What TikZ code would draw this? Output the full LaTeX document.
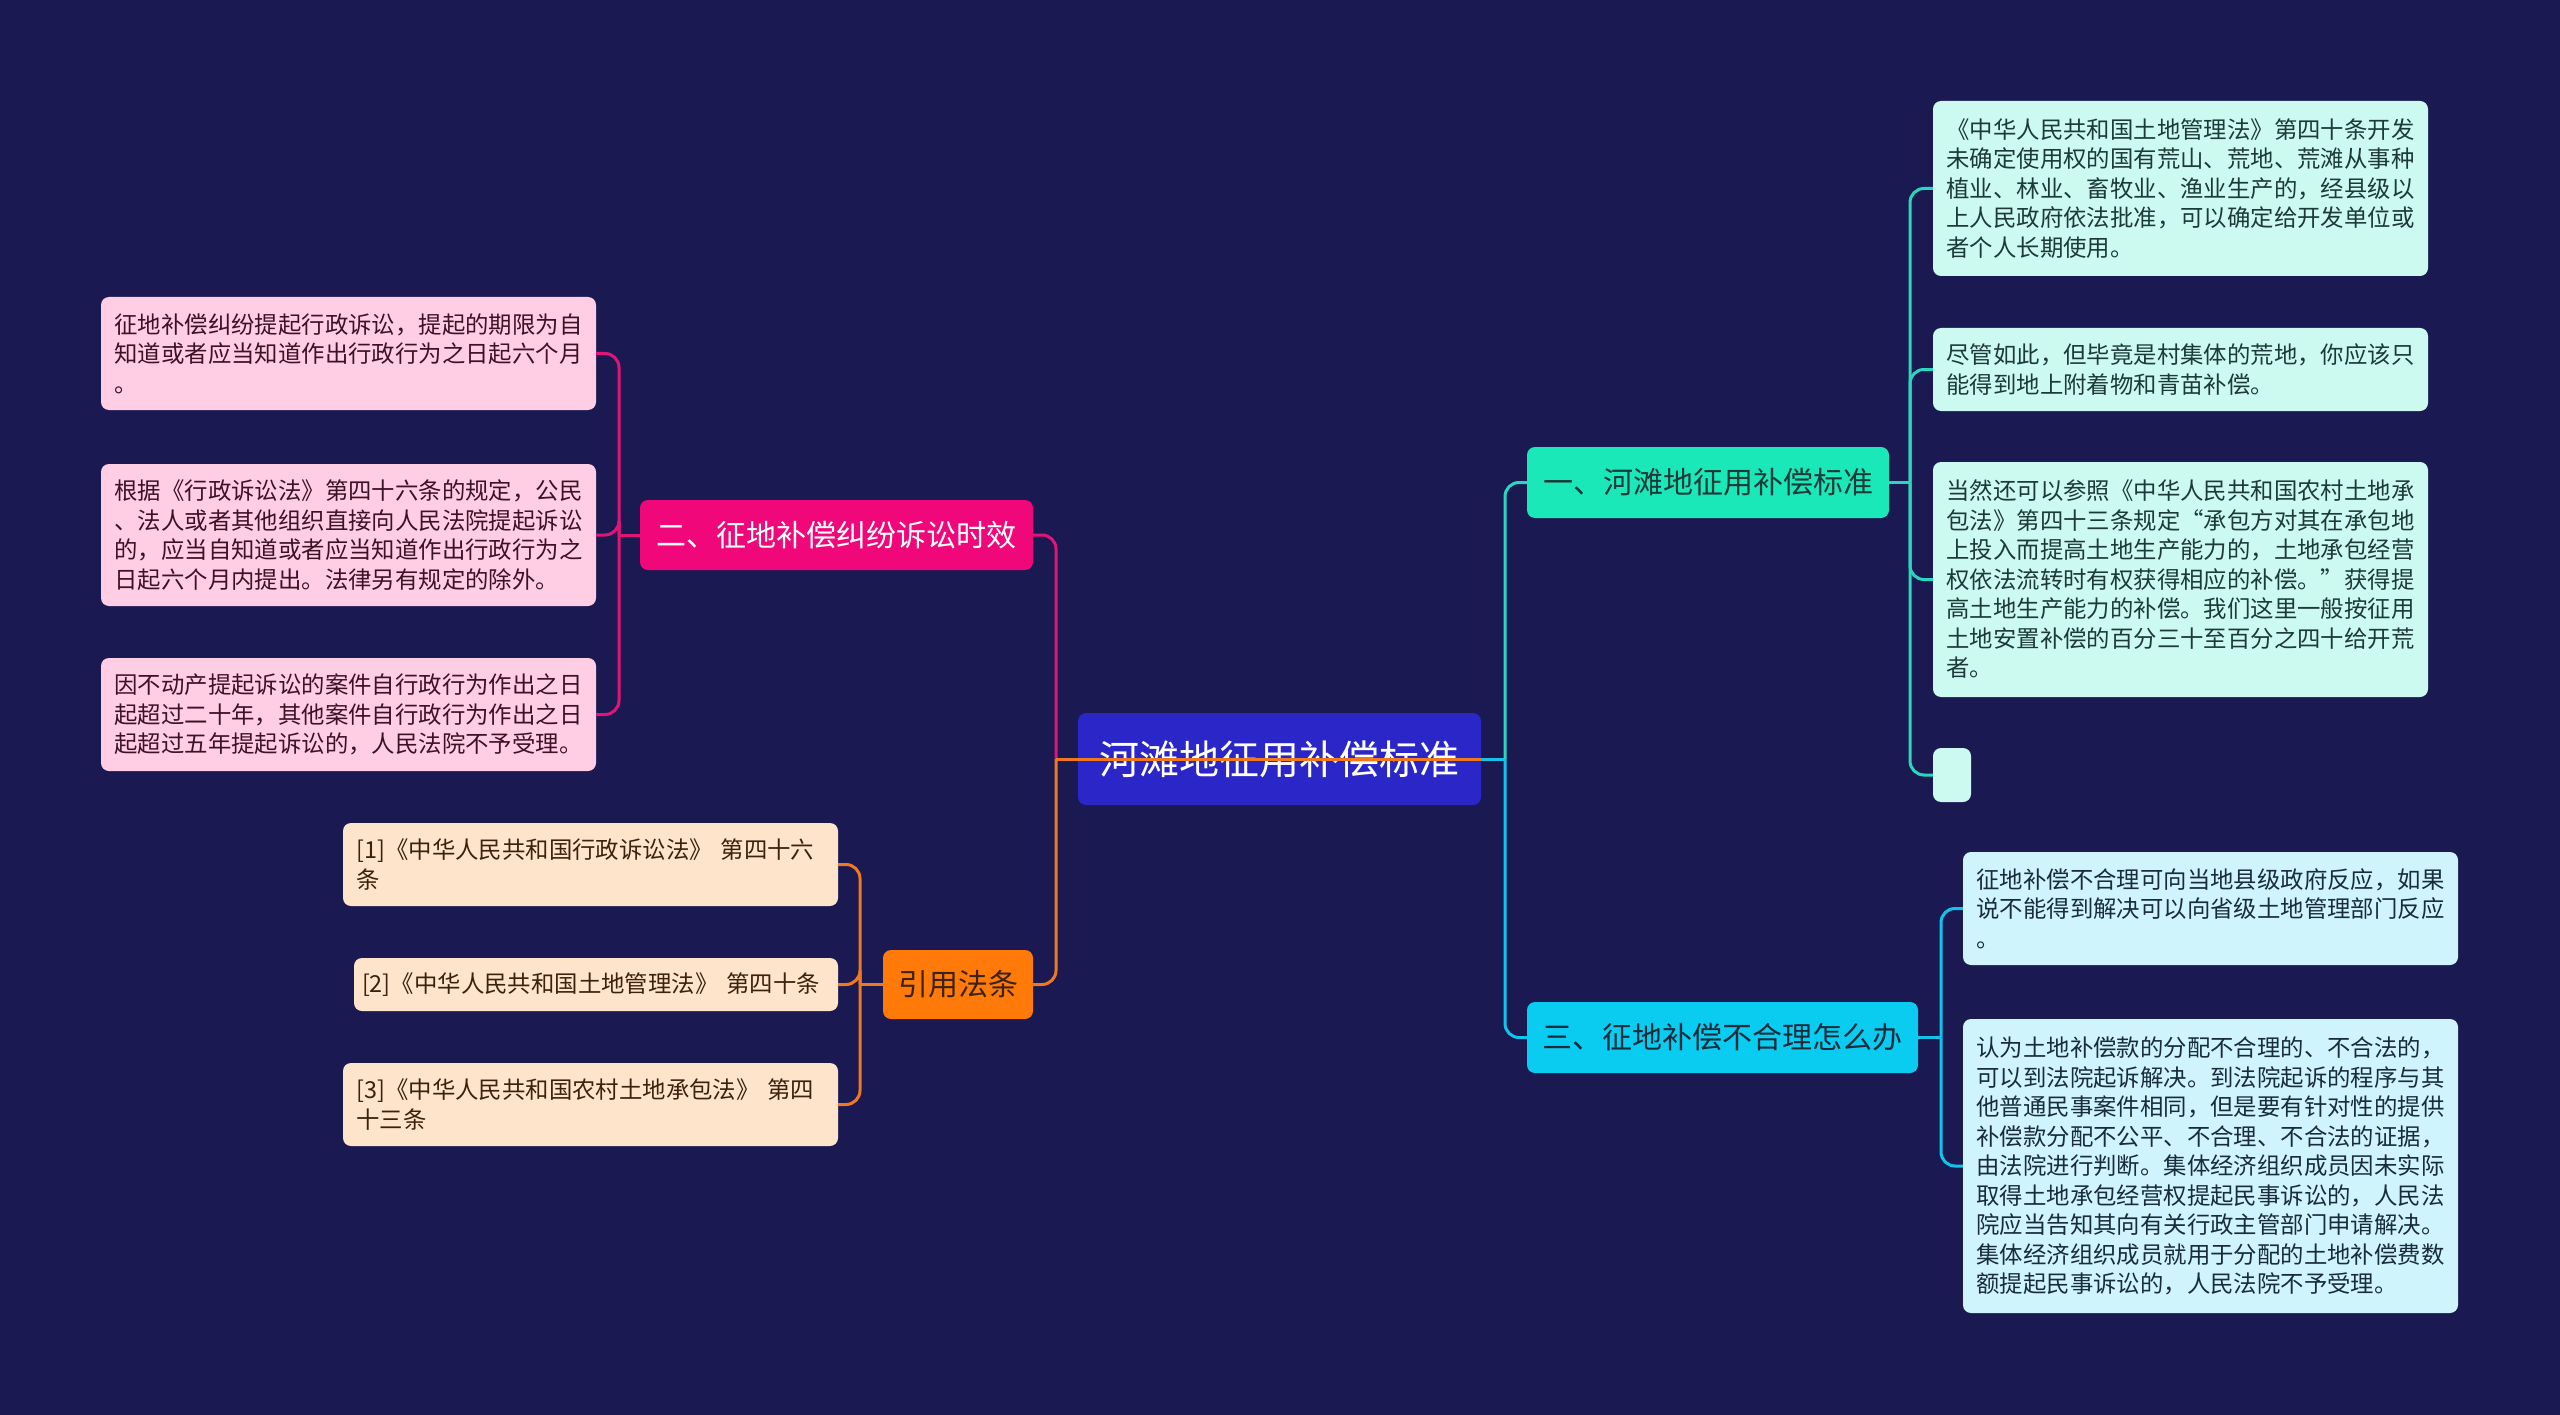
\documentclass[tikz,border=0pt]{standalone}
\usepackage{fontspec}
\newfontfamily\cjk{Noto Sans CJK SC}
\definecolor{bg}{RGB}{27,25,82}
\definecolor{ctrfill}{RGB}{42,38,200}
\definecolor{mintmain}{RGB}{26,232,184}
\definecolor{cyanmain}{RGB}{10,204,240}
\definecolor{pinkmain}{RGB}{240,8,122}
\definecolor{orangemain}{RGB}{255,122,8}
\definecolor{mintleaf}{RGB}{205,250,240}
\definecolor{cyanleaf}{RGB}{208,244,252}
\definecolor{pinkleaf}{RGB}{255,206,228}
\definecolor{orangeleaf}{RGB}{255,228,204}
\definecolor{mintln}{RGB}{40,215,190}
\definecolor{cyanln}{RGB}{20,195,235}
\definecolor{pinkln}{RGB}{225,20,120}
\definecolor{orangeln}{RGB}{240,120,30}
\definecolor{minttxt}{RGB}{28,58,58}
\definecolor{cyantxt}{RGB}{24,44,60}
\definecolor{pinktxt}{RGB}{60,18,38}
\definecolor{orangetxt}{RGB}{60,34,14}
\begin{document}
\begin{tikzpicture}[x=1pt,y=-1pt,
  base/.style={rounded corners=8pt, inner sep=0pt},
  leaf/.style={base, text width=468pt, inner xsep=13.5pt, inner ysep=0pt, align=left,
    font={\cjk\fontsize{23.4}{29.5}\selectfont}},
  mainbr/.style={base, align=center, font={\cjk\fontsize{30}{36}\selectfont}},
  conn/.style={line width=3pt},
  mintline/.style={conn, draw=mintln},
  cyanline/.style={conn, draw=cyanln},
  pinkline/.style={conn, draw=pinkln},
  orangeline/.style={conn, draw=orangeln},
  rc/.style={rounded corners=14pt}
]
\fill[bg] (0,0) rectangle (2560,1415);
\useasboundingbox (0,0) rectangle (2560,1415);

% center
\node[base, fill=ctrfill, text=white, minimum width=403pt, minimum height=92pt,
  font={\cjk\fontsize{40}{48}\selectfont}] (ctr) at (1279.5,759) {河滩地征用补偿标准};

% main branches
\node[mainbr, fill=mintmain, text=minttxt, minimum width=362pt, minimum height=71pt] (n1) at (1708,482.5) {一、河滩地征用补偿标准};
\node[mainbr, fill=cyanmain, text=cyantxt, minimum width=391pt, minimum height=71pt] (n3) at (1722.5,1037.5) {三、征地补偿不合理怎么办};
\node[mainbr, fill=pinkmain, text=white, minimum width=393pt, minimum height=70pt] (n2) at (836.5,535) {二、征地补偿纠纷诉讼时效};
\node[mainbr, fill=orangemain, text=orangetxt, minimum width=150pt, minimum height=69pt] (n4) at (958,984.5) {引用法条};

% leaves of n1
\node[leaf, fill=mintleaf, text=minttxt, minimum height=175pt] (c1) at (2180.5,188.5)
{《中华人民共和国土地管理法》第四十条开发\\未确定使用权的国有荒山、荒地、荒滩从事种\\植业、林业、畜牧业、渔业生产的，经县级以\\上人民政府依法批准，可以确定给开发单位或\\者个人长期使用。};
\node[leaf, fill=mintleaf, text=minttxt, minimum height=83pt] (c2) at (2180.5,369.5)
{尽管如此，但毕竟是村集体的荒地，你应该只\\能得到地上附着物和青苗补偿。};
\node[leaf, fill=mintleaf, text=minttxt, minimum height=235pt] (c3) at (2180.5,579.5)
{当然还可以参照《中华人民共和国农村土地承\\包法》第四十三条规定“承包方对其在承包地\\上投入而提高土地生产能力的，土地承包经营\\权依法流转时有权获得相应的补偿。”获得提\\高土地生产能力的补偿。我们这里一般按征用\\土地安置补偿的百分三十至百分之四十给开荒\\者。};
\node[base, fill=mintleaf, minimum width=38pt, minimum height=54pt] (c4) at (1952,775) {};

% leaves of n3
\node[leaf, fill=cyanleaf, text=cyantxt, minimum height=113pt] (d1) at (2210.5,908.5)
{征地补偿不合理可向当地县级政府反应，如果\\说不能得到解决可以向省级土地管理部门反应\\。};
\node[leaf, fill=cyanleaf, text=cyantxt, minimum height=294pt] (d2) at (2210.5,1166)
{认为土地补偿款的分配不合理的、不合法的，\\可以到法院起诉解决。到法院起诉的程序与其\\他普通民事案件相同，但是要有针对性的提供\\补偿款分配不公平、不合理、不合法的证据，\\由法院进行判断。集体经济组织成员因未实际\\取得土地承包经营权提起民事诉讼的，人民法\\院应当告知其向有关行政主管部门申请解决。\\集体经济组织成员就用于分配的土地补偿费数\\额提起民事诉讼的，人民法院不予受理。};

% leaves of n2
\node[leaf, fill=pinkleaf, text=pinktxt, minimum height=113pt] (e1) at (348.5,353.5)
{征地补偿纠纷提起行政诉讼，提起的期限为自\\知道或者应当知道作出行政行为之日起六个月\\。};
\node[leaf, fill=pinkleaf, text=pinktxt, minimum height=142pt] (e2) at (348.5,535)
{根据《行政诉讼法》第四十六条的规定，公民\\、法人或者其他组织直接向人民法院提起诉讼\\的，应当自知道或者应当知道作出行政行为之\\日起六个月内提出。法律另有规定的除外。};
\node[leaf, fill=pinkleaf, text=pinktxt, minimum height=113pt] (e3) at (348.5,714.5)
{因不动产提起诉讼的案件自行政行为作出之日\\起超过二十年，其他案件自行政行为作出之日\\起超过五年提起诉讼的，人民法院不予受理。};

% leaves of n4
\node[leaf, fill=orangeleaf, text=orangetxt, minimum height=83pt] (f1) at (590.5,864.5)
{[1]《中华人民共和国行政诉讼法》 第四十六\\条};
\node[leaf, fill=orangeleaf, text=orangetxt, text width=468pt, inner xsep=8pt, minimum height=53pt] (f2) at (596,984.5)
{[2]《中华人民共和国土地管理法》~第四十条};
\node[leaf, fill=orangeleaf, text=orangetxt, minimum height=83pt] (f3) at (590.5,1104.5)
{[3]《中华人民共和国农村土地承包法》 第四\\十三条};

% connectors right
\coordinate (rb) at (1505,759);
\draw[cyanline] (ctr.east) -- (rb);
\draw[mintline, rc] (rb) |- (n1.west);
\draw[cyanline, rc] (rb) |- (n3.west);

\coordinate (b1) at (1910,482.5);
\draw[mintline] (n1.east) -- (b1);
\foreach \c in {c1,c2,c3,c4} \draw[mintline, rc] (b1) |- (\c.west);

\coordinate (b3) at (1941,1037.5);
\draw[cyanline] (n3.east) -- (b3);
\foreach \c in {d1,d2} \draw[cyanline, rc] (b3) |- (\c.west);

% connectors left
\coordinate (lb) at (1056,759);
\draw[pinkline] (ctr.west) -- (lb);
\draw[pinkline, rc] (lb) |- (n2.east);
\draw[orangeline] (ctr.east) -- (lb);
\draw[orangeline, rc] (lb) |- (n4.east);

\coordinate (b2) at (619,535);
\draw[pinkline] (n2.west) -- (b2);
\foreach \c in {e1,e2,e3} \draw[pinkline, rc] (b2) |- (\c.east);

\coordinate (b4) at (860,984.5);
\draw[orangeline] (n4.west) -- (b4);
\foreach \c in {f1,f2,f3} \draw[orangeline, rc] (b4) |- (\c.east);
\end{tikzpicture}
\end{document}
